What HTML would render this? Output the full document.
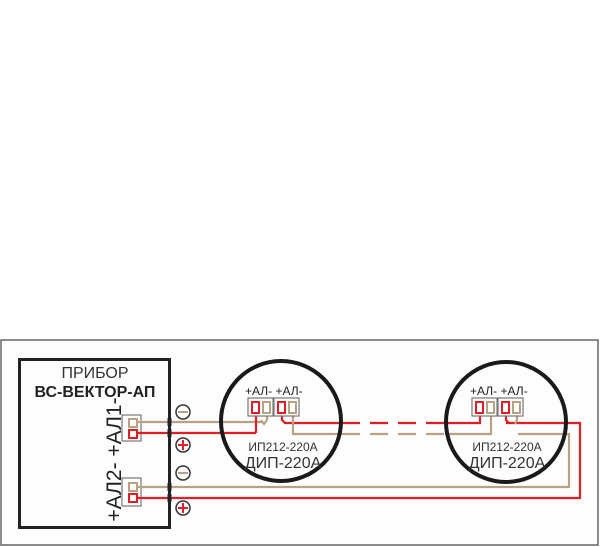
<!DOCTYPE html><html><head><style>body{margin:0;background:#fff}svg{display:block}</style></head><body>
<svg width="600" height="547" xmlns="http://www.w3.org/2000/svg" font-family="Liberation Sans, sans-serif">
<rect x="1" y="340" width="597" height="205" fill="#fdfdfd" stroke="#666" stroke-width="1.5"/>
<rect x="19.5" y="359.5" width="150" height="168" fill="none" stroke="#222" stroke-width="3"/>
<text x="95" y="378" font-size="16" text-anchor="middle" fill="#333">ПРИБОР</text>
<text x="95" y="397" font-size="16" font-weight="bold" text-anchor="middle" fill="#222">ВС-ВЕКТОР-АП</text>
<text transform="translate(121,427) rotate(-90)" font-size="21" text-anchor="middle" fill="#222">+АЛ1-</text>
<text transform="translate(121,492) rotate(-90)" font-size="21" text-anchor="middle" fill="#222">+АЛ2-</text>
<g fill="#fff" stroke="#777" stroke-width="1.2"><rect x="122" y="415" width="19" height="26"/><rect x="122" y="478" width="19" height="28"/></g>
<g fill="none" stroke-width="2.2">
<path d="M137 422H262" stroke="#b8a283"/>
<path d="M137 433H256" stroke="#e01e25"/>
<path d="M137 487H569V434H518" stroke="#b8a283"/>
<path d="M137 498H580V423H506" stroke="#e01e25"/>
<path d="M256 405V433" stroke="#e01e25"/>
<path d="M267 405V420l-3 4-3-4" stroke="#b8a283"/>
<path d="M282 405V420l3 3H342" stroke="#e01e25"/>
<path d="M293 405V434H342" stroke="#b8a283"/>
<path d="M342 423H445" stroke="#e01e25" stroke-dasharray="18 10"/>
<path d="M342 434H445" stroke="#b8a283" stroke-dasharray="18 10"/>
<path d="M445 423H480V405" stroke="#e01e25"/>
<path d="M445 434H491V405" stroke="#b8a283"/>
<path d="M506 405V420l3 3" stroke="#e01e25"/>
<path d="M517 405V420l-2 4" stroke="#b8a283"/>
</g>
<g fill="#fff" stroke-width="2"><rect x="129" y="419" width="8" height="8" stroke="#b8a283"/><rect x="129" y="430" width="8" height="8" stroke="#e01e25"/><rect x="129" y="483" width="8" height="8" stroke="#b8a283"/><rect x="129" y="494" width="8" height="8" stroke="#e01e25"/></g>
<path d="M169.5 358V528" stroke="#222" stroke-width="3"/>
<g stroke="#222" stroke-width="4"><path d="M169.5 418v8M169.5 429v8M169.5 483v8M169.5 494v8"/></g>
<g fill="#fff" stroke="#333" stroke-width="1.5"><circle cx="183" cy="412" r="7"/><circle cx="183" cy="445" r="7"/><circle cx="183" cy="473" r="7"/><circle cx="183" cy="508" r="7"/></g>
<g stroke-width="2"><path d="M178 412h10M178 473h10" stroke="#b8a283"/><path d="M178 445h10M183 440v10M178 508h10M183 503v10" stroke="#e01e25"/></g>
<g fill="none" stroke="#1a1a1a" stroke-width="4"><circle cx="281" cy="421" r="60"/><circle cx="506" cy="422" r="60"/></g>
<g font-size="12" fill="#222"><text x="245" y="395">+АЛ- +АЛ-</text><text x="470" y="395">+АЛ- +АЛ-</text></g>
<g fill="#fff" stroke="#777" stroke-width="1.2"><rect x="248" y="398" width="25" height="18"/><rect x="274" y="398" width="25" height="18"/><rect x="472" y="398" width="25" height="18"/><rect x="498" y="398" width="25" height="18"/></g>
<g fill="#fff" stroke-width="2">
<rect x="252" y="402" width="7" height="11" stroke="#e01e25"/><rect x="263" y="402" width="7" height="11" stroke="#b8a283"/><rect x="278" y="402" width="7" height="11" stroke="#e01e25"/><rect x="289" y="402" width="7" height="11" stroke="#b8a283"/>
<rect x="476" y="402" width="7" height="11" stroke="#e01e25"/><rect x="487" y="402" width="7" height="11" stroke="#b8a283"/><rect x="502" y="402" width="7" height="11" stroke="#e01e25"/><rect x="513" y="402" width="7" height="11" stroke="#b8a283"/></g>
<g text-anchor="middle" fill="#333"><text x="283" y="451" font-size="12">ИП212-220А</text><text x="283" y="468" font-size="16">ДИП-220А</text><text x="507" y="451" font-size="12">ИП212-220А</text><text x="507" y="468" font-size="16">ДИП-220А</text></g>
</svg></body></html>
